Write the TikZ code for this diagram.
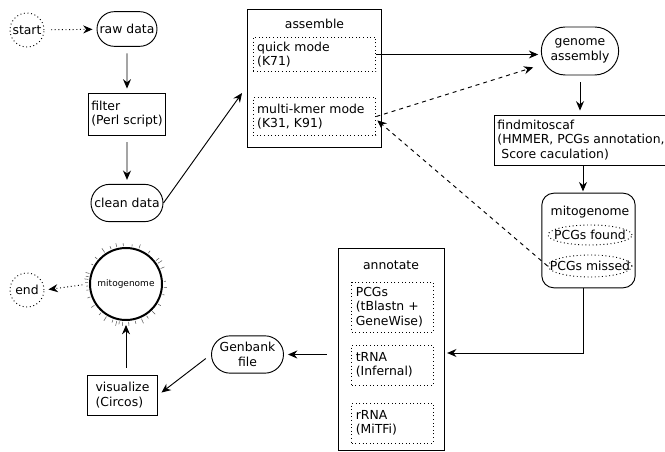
\documentclass[tikz,border=0pt]{standalone}
\usepackage{fontspec}
\setmainfont{DejaVu Sans}
\usetikzlibrary{shapes.misc,shapes.geometric,arrows.meta,calc}

\begin{document}
\begin{tikzpicture}[x=0.75pt, y=-0.75pt, line width=0.7pt,
    >={Stealth[length=7pt,width=6pt]},
    font=\fontsize{9.3}{10.8}\selectfont,
    pill/.style={draw, rounded rectangle, align=center, inner sep=1pt},
    box/.style={draw, align=left, inner sep=2pt},
    sub/.style={draw, dotted, align=left, inner sep=3pt},
    hit/.style={draw, dotted, ellipse, inner xsep=-8pt, inner ysep=0pt,
      minimum width=63pt},
    endpt/.style={draw, dotted, circle, minimum size=25.5pt, inner sep=0pt},
    flow/.style={->, shorten <=5pt, shorten >=3pt}]
  \useasboundingbox (0,0) rectangle (665,452);

  % ----- preprocessing -----
  \node[endpt] (start) at (27,30) {start};
  \node[pill, minimum width=47pt, minimum height=26pt] (raw) at (127,29) {raw data};
  \node[box, minimum width=58pt, minimum height=31.5pt] (filter) at (127,114)
    {filter\\(Perl script)};
  \node[pill, minimum width=56pt, minimum height=28pt] (clean) at (127,203) {clean data};

  % ----- assemble -----
  \node[draw, minimum width=101pt, minimum height=103pt] (assemble) at (314.5,78.5) {};
  \node (assembleT) at (314.5,24) {assemble};
  \node[sub, text width=86pt, minimum height=26pt] (quick) at (314.5,54.5)
    {quick mode\\(K71)};
  \node[sub, text width=86pt, minimum height=28pt] (multi) at (314.5,116.5)
    {multi-kmer mode\\(K31, K91)};

  % ----- scaffold search -----
  \node[pill, minimum width=60pt, minimum height=36pt] (genome) at (580,51)
    {genome\\assembly};
  \node[box, minimum width=121.5pt, minimum height=37.5pt] (find) at (581,140)
    {findmitoscaf\\(HMMER, PCGs annotation,\\\hspace{3pt}Score caculation)};
  \node[draw, rounded corners=9pt, minimum width=70pt, minimum height=71pt] (mito)
    at (588.5,240.5) {};
  \node (mitoT) at (590,212) {mitogenome};
  \node[hit, minimum height=15pt] (found) at (590,235) {PCGs found};
  \node[hit, minimum height=16.5pt] (missed) at (590,266) {PCGs missed};

  % ----- annotate -----
  \node[draw, minimum width=79.5pt, minimum height=152pt] (annotate) at (391,349.5) {};
  \node (annotateT) at (391,265) {annotate};
  \node[sub, text width=55pt, minimum height=37.5pt] (pcgs) at (392.5,307)
    {PCGs\\(tBlastn +\\GeneWise)};
  \node[sub, text width=55pt, minimum height=30pt] (trna) at (392.5,365)
    {tRNA\\(Infernal)};
  \node[sub, text width=55pt, minimum height=30pt] (rrna) at (392.5,423)
    {rRNA\\(MiTFi)};

  % ----- output -----
  \node[pill, minimum width=56pt, minimum height=28pt] (genbank) at (247.5,354.5)
    {Genbank\\file};
  \node[box, minimum width=53pt, minimum height=30pt] (vis) at (122.5,395)
    {visualize\\(Circos)};
  \node[draw, circle, line width=1.5pt, minimum size=54pt, inner sep=0pt,
    font=\fontsize{6.75}{8}\selectfont] (circ) at (126,284) {mitogenome};
  \foreach \a/\l in {95/4, 100/3, 104/5, 110/3, 86/4, 76/3, 66/5, 57/3, 46/4,
      32/3, 16/2, 5/3, -4/2, -24/4, -33/5, -38/4, -54/3, -70/4, -81/2, -94/3,
      -104/4, -113/3, -124/5, -139/3, -150/2, -164/4, -169/3, -173/4, -178/3,
      -183/2, 171/2, 160/3, 146/4, 131/3, 121/5}
    \draw[line width=0.4pt, gray!70!black] (circ.center) ++(\a:38) -- ++(\a:\l);
  \node[endpt] (end) at (27,290) {end};

  % ----- connectors -----
  \draw[flow, dotted] (start) -- (raw);
  \draw[flow] (raw) -- (filter);
  \draw[flow] (filter) -- (clean);
  \draw[->, shorten >=6pt] (clean.east) -- ($(assemble.west)+(0,8)$);
  \draw[->, shorten >=2pt] (quick.east) -- (quick.east -| genome.west);
  \draw[->, dashed, shorten >=6pt] (multi.east) -- ($(genome.west)+(0,14)$);
  \draw[flow] (genome.south) -- (genome.south |- find.north);
  \draw[->, shorten >=1pt] (find.south -| 583,0) -- (mito.north -| 583,0);
  \draw[->, dashed, shorten >=1pt] (missed.west) -- ($(multi.east)+(0,3)$);
  \coordinate (turn) at (583,353);
  \draw[->, shorten >=2pt] (mito.south -| turn) -- (turn) -- (turn -| annotate.east);
  \draw[->, shorten <=8pt, shorten >=3pt] (annotate.west |- genbank) -- (genbank.east);
  \draw[flow] (genbank.west) -- (vis.east);
  \draw[flow] (circ.south |- vis.north) -- (circ.south);
  \draw[flow, dotted] (circ.west) -- (end.east);
\end{tikzpicture}
\end{document}
